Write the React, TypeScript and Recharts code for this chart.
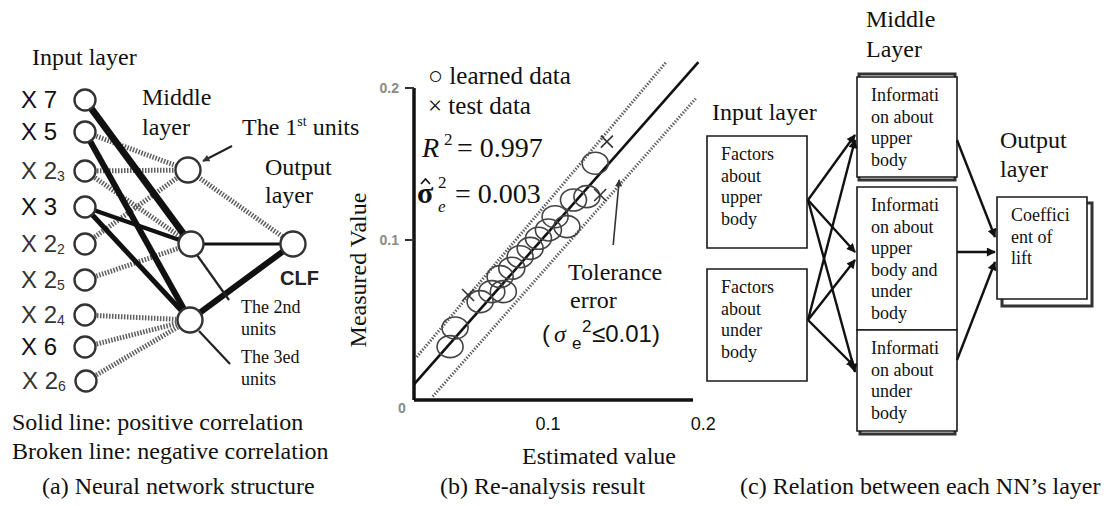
import React from 'react';
import { ScatterChart, Scatter, XAxis, YAxis, ReferenceLine, ReferenceArea } from 'recharts';

const W = 1119;
const H = 506;
const SERIF = '"Liberation Serif", "Times New Roman", Times, serif';
const SANS = '"Liberation Sans", Arial, Helvetica, sans-serif';

// ---------------- (a) Neural network structure (diagram units) ----------------
const inputUnits = [
  { id: 'X7', x: 85, y: 100, name: 'X 7', sub: '' },
  { id: 'X5', x: 85, y: 132, name: 'X 5', sub: '' },
  { id: 'X23', x: 85, y: 171, name: 'X 2', sub: '3' },
  { id: 'X3', x: 85, y: 207, name: 'X 3', sub: '' },
  { id: 'X22', x: 85, y: 244, name: 'X 2', sub: '2' },
  { id: 'X25', x: 85, y: 280, name: 'X 2', sub: '5' },
  { id: 'X24', x: 85, y: 315, name: 'X 2', sub: '4' },
  { id: 'X6', x: 85, y: 347, name: 'X 6', sub: '' },
  { id: 'X26', x: 86, y: 381, name: 'X 2', sub: '6' },
];
const middleUnits = [
  { id: 'M1', x: 188, y: 170 },
  { id: 'M2', x: 191, y: 244 },
  { id: 'M3', x: 190, y: 320 },
];
const outputUnits = [{ id: 'CLF', x: 293, y: 244 }];

const positiveLinks = [
  { from: 'X7', to: 'M2', weight: 7 },
  { from: 'X5', to: 'M3', weight: 6 },
  { from: 'X3', to: 'M2', weight: 4 },
  { from: 'X3', to: 'M3', weight: 5 },
  { from: 'M2', to: 'CLF', weight: 3 },
  { from: 'M3', to: 'CLF', weight: 6 },
];
const negativeLinks = [
  { from: 'X5', to: 'M1' },
  { from: 'X23', to: 'M1' },
  { from: 'X22', to: 'M1' },
  { from: 'X23', to: 'M2' },
  { from: 'X25', to: 'M2' },
  { from: 'X24', to: 'M3' },
  { from: 'X6', to: 'M3' },
  { from: 'X26', to: 'M3' },
  { from: 'M1', to: 'CLF' },
];
const unitPointers = [
  { points: [{ x: 232, y: 146 }, { x: 203, y: 161 }], head: true },
  { points: [{ x: 197, y: 255 }, { x: 229, y: 300 }], head: false },
  { points: [{ x: 199, y: 331 }, { x: 230, y: 364 }], head: false },
];

const labelsA = [
  { x: 32, y: 65, text: 'Input layer', kind: 'title' },
  { x: 142, y: 105, text: 'Middle', kind: 'title' },
  { x: 142, y: 135, text: 'layer', kind: 'title' },
  { x: 242, y: 135, text: 'The 1', sup: 'st', rest: ' units', kind: 'ordinal' },
  { x: 265, y: 175, text: 'Output', kind: 'title' },
  { x: 265, y: 203, text: 'layer', kind: 'title' },
  { x: 280, y: 285, text: 'CLF', kind: 'bold' },
  { x: 241, y: 313, text: 'The 2nd', kind: 'small' },
  { x: 241, y: 335, text: 'units', kind: 'small' },
  { x: 241, y: 363, text: 'The 3ed', kind: 'small' },
  { x: 241, y: 385, text: 'units', kind: 'small' },
  { x: 12, y: 430, text: 'Solid line: positive correlation', kind: 'title' },
  { x: 12, y: 459, text: 'Broken line: negative correlation', kind: 'title' },
  { x: 42, y: 494, text: '(a) Neural network structure', kind: 'title' },
];

// ---------------- (b) Re-analysis result (data units) ----------------
const learnedData = [
  { x: 0.0269, y: 0.0298 },
  { x: 0.0306, y: 0.0421 },
  { x: 0.0493, y: 0.0594 },
  { x: 0.058, y: 0.066 },
  { x: 0.0642, y: 0.0759 },
  { x: 0.0666, y: 0.066 },
  { x: 0.0729, y: 0.0814 },
  { x: 0.0791, y: 0.089 },
  { x: 0.0866, y: 0.0945 },
  { x: 0.0928, y: 0.1011 },
  { x: 0.1002, y: 0.1066 },
  { x: 0.1052, y: 0.1153 },
  { x: 0.114, y: 0.1088 },
  { x: 0.1189, y: 0.1263 },
  { x: 0.1289, y: 0.1285 },
  { x: 0.1351, y: 0.1505 },
];
const testData = [
  { x: 0.0403, y: 0.0638 },
  { x: 0.1388, y: 0.1296 },
  { x: 0.1438, y: 0.1647 },
];
const xTicks = [0.1, 0.2];
const yTicks = [0.1, 0.2];
const identityLine = [{ x: 0, y: 0.005 }, { x: 0.212, y: 0.217 }];
const upperTolerance = [{ x: 0.002, y: 0.023 }, { x: 0.188, y: 0.217 }];
const lowerTolerance = [{ x: 0.014, y: -0.003 }, { x: 0.21, y: 0.193 }];
const toleranceArrow = [{ x: 0.1485, y: 0.0967 }, { x: 0.153, y: 0.1395 }];

const labelsB = [
  { x: 428, y: 84, text: '○ learned data', kind: 'legend' },
  { x: 428, y: 114, text: '× test data', kind: 'legend' },
  { x: 422, y: 157, text: 'R', sup: '2', rest: '= 0.997', kind: 'r2' },
  { x: 417, y: 203, text: 'σ', sup: '2', sub: 'e', rest: '= 0.003', kind: 'sigma' },
  { x: 568, y: 280, text: 'Tolerance', kind: 'title' },
  { x: 570, y: 308, text: 'error', kind: 'title' },
  { x: 542, y: 342, text: '(σe2≤0.01)', kind: 'tolerance' },
  { x: 366, y: 270, text: 'Measured Value', kind: 'vertical' },
  { x: 398, y: 413, text: '0', kind: 'faint' },
  { x: 522, y: 464, text: 'Estimated value', kind: 'title' },
  { x: 440, y: 494, text: '(b) Re-analysis result', kind: 'title' },
];

// ---------------- (c) Relation between each NN's layer ----------------
const inputBoxes = [
  { x1: 707, x2: 807, y1: 136, y2: 248, lines: ['Factors', 'about', 'upper', 'body'] },
  { x1: 707, x2: 807, y1: 269, y2: 381, lines: ['Factors', 'about', 'under', 'body'] },
];
const middleBoxes = [
  { x1: 857, x2: 957, y1: 77, y2: 177, lines: ['Informati', 'on about', 'upper', 'body'] },
  { x1: 857, x2: 957, y1: 187, y2: 330, lines: ['Informati', 'on about', 'upper', 'body and', 'under', 'body'] },
  { x1: 857, x2: 957, y1: 330, y2: 431, lines: ['Informati', 'on about', 'under', 'body'] },
];
const outputBoxes = [
  { x1: 997, x2: 1087, y1: 197, y2: 299, lines: ['Coeffici', 'ent of', 'lift'] },
];
const boxShadows = [
  { x1: 859, x2: 955, y1: 74, y2: 180 },
  { x1: 860, x2: 955, y1: 333, y2: 434 },
  { x1: 1002, x2: 1092, y1: 203, y2: 306 },
];
const layerLinks = [
  [{ x: 808, y: 200 }, { x: 855, y: 135 }],
  [{ x: 808, y: 200 }, { x: 855, y: 252 }],
  [{ x: 808, y: 200 }, { x: 855, y: 372 }],
  [{ x: 808, y: 320 }, { x: 855, y: 140 }],
  [{ x: 808, y: 320 }, { x: 855, y: 260 }],
  [{ x: 808, y: 320 }, { x: 855, y: 367 }],
  [{ x: 957, y: 140 }, { x: 995, y: 237 }],
  [{ x: 957, y: 252 }, { x: 995, y: 252 }],
  [{ x: 957, y: 360 }, { x: 995, y: 262 }],
];
const labelsC = [
  { x: 866, y: 27, text: 'Middle', kind: 'title' },
  { x: 866, y: 57, text: 'Layer', kind: 'title' },
  { x: 712, y: 120, text: 'Input layer', kind: 'title' },
  { x: 1000, y: 148, text: 'Output', kind: 'title' },
  { x: 1000, y: 177, text: 'layer', kind: 'title' },
  { x: 740, y: 494, text: '(c) Relation between each NN’s layer', kind: 'title' },
];

// ---------------- helpers ----------------
const allUnits: Record<string, { x: number; y: number }> = {};
[...inputUnits, ...middleUnits, ...outputUnits].forEach((u) => {
  allUnits[u.id] = { x: u.x, y: u.y };
});

const TEXT: Record<string, any> = {
  title: { fontFamily: SERIF, fontSize: 24, fill: '#111' },
  small: { fontFamily: SERIF, fontSize: 18, fill: '#111' },
  box: { fontFamily: SERIF, fontSize: 18, fill: '#111' },
  legend: { fontFamily: SERIF, fontSize: 25, fill: '#111' },
  bold: { fontFamily: SANS, fontSize: 20, fontWeight: 700, fill: '#222' },
  faint: { fontFamily: SANS, fontSize: 14, fontWeight: 700, fill: '#8a8a8a' },
};

const noShape = () => <g />;

function LabelShape(props: any) {
  const { cx, cy, payload } = props;
  const k = payload.kind;
  if (k === 'ordinal') {
    return (
      <text x={cx} y={cy} {...TEXT.title}>
        {payload.text}
        <tspan dy={-9} fontSize={14}>{payload.sup}</tspan>
        <tspan dy={9}>{payload.rest}</tspan>
      </text>
    );
  }
  if (k === 'r2') {
    return (
      <g fontFamily={SERIF} fill="#111">
        <text x={cx} y={cy} fontSize={28} fontStyle="italic">{payload.text}</text>
        <text x={cx + 22} y={cy - 12} fontSize={17}>{payload.sup}</text>
        <text x={cx + 35} y={cy} fontSize={28}>{payload.rest}</text>
      </g>
    );
  }
  if (k === 'sigma') {
    return (
      <g fontFamily={SERIF} fill="#111">
        <text x={cx} y={cy} fontSize={30} fontWeight={700}>{payload.text}</text>
        <polyline
          points={`${cx + 4},${cy - 19} ${cx + 8.5},${cy - 24} ${cx + 13},${cy - 19}`}
          fill="none"
          stroke="#111"
          strokeWidth={1.6}
        />
        <text x={cx + 21} y={cy - 15} fontSize={17}>{payload.sup}</text>
        <text x={cx + 21} y={cy + 9} fontSize={17} fontStyle="italic">{payload.sub}</text>
        <text x={cx + 38} y={cy} fontSize={28}>{payload.rest}</text>
      </g>
    );
  }
  if (k === 'tolerance') {
    return (
      <g fill="#111">
        <text x={cx} y={cy} fontFamily={SANS} fontSize={24}>(</text>
        <text x={cx + 12} y={cy} fontFamily={SERIF} fontSize={24} fontStyle="italic">σ</text>
        <text x={cx + 30} y={cy + 7} fontFamily={SANS} fontSize={17}>e</text>
        <text x={cx + 40} y={cy - 10} fontFamily={SANS} fontSize={17}>2</text>
        <text x={cx + 50} y={cy} fontFamily={SANS} fontSize={24}>≤0.01)</text>
      </g>
    );
  }
  if (k === 'vertical') {
    return (
      <text x={cx} y={cy} textAnchor="middle" transform={`rotate(-90, ${cx}, ${cy})`} {...TEXT.title}>
        {payload.text}
      </text>
    );
  }
  return (
    <text x={cx} y={cy} {...(TEXT[k] || TEXT.title)}>
      {payload.text}
    </text>
  );
}

function BoxText(props: any) {
  const { cx, cy, payload } = props;
  return (
    <text {...TEXT.box}>
      {payload.lines.map((l: string, i: number) => (
        <tspan key={i} x={cx + 14} y={cy + 24 + i * 21.5}>{l}</tspan>
      ))}
    </text>
  );
}

function InputUnitShape(props: any) {
  const { cx, cy, payload } = props;
  return (
    <g>
      <circle cx={cx} cy={cy} r={10.5} fill="#fff" stroke="#333" strokeWidth={2.4} />
      <text x={cx - 64} y={cy + 8} fontFamily={SANS} fontSize={24} fill={payload.sub ? '#333' : '#111'}>
        {payload.name}
        {payload.sub ? <tspan dx={0} dy={2} fontSize={14}>{payload.sub}</tspan> : null}
      </text>
    </g>
  );
}

function UnitShape(props: any) {
  const { cx, cy } = props;
  return <circle cx={cx} cy={cy} r={12.5} fill="#fff" stroke="#333" strokeWidth={2.4} />;
}

function LearnedShape(props: any) {
  const { cx, cy } = props;
  return <ellipse cx={cx} cy={cy} rx={13} ry={11} fill="none" stroke="#444" strokeWidth={1.6} />;
}

function TestShape(props: any) {
  const { cx, cy } = props;
  return (
    <g stroke="#333" strokeWidth={1.6}>
      <line x1={cx - 6} y1={cy - 6} x2={cx + 6} y2={cy + 6} />
      <line x1={cx - 6} y1={cy + 6} x2={cx + 6} y2={cy - 6} />
    </g>
  );
}

function XTick(props: any) {
  const { x, y, payload, index } = props;
  const nudge = index === xTicks.length - 1 ? 21 : 0;
  return (
    <text x={x + nudge} y={y + 18} textAnchor="middle" fontFamily={SANS} fontSize={18} fill="#111">
      {payload.value}
    </text>
  );
}

function YTick(props: any) {
  const { x, y, payload } = props;
  return (
    <text x={x - 4} y={y + 5} textAnchor="end" fontFamily={SANS} fontSize={14} fontWeight={700} fill="#8a8a8a">
      {payload.value}
    </text>
  );
}

const dotted = { stroke: '#5e5e5e', strokeWidth: 5, strokeDasharray: '1.5 1.5' };

export default function App() {
  return (
    <div style={{ position: 'absolute', left: 0, top: 0, width: W, height: H, background: '#fff', overflow: 'hidden' }}>
      <svg width={0} height={0} style={{ position: 'absolute' }}>
        <defs>
          <marker id="arrowHead" viewBox="0 0 10 10" refX="9" refY="5" markerWidth="11" markerHeight="9" markerUnits="userSpaceOnUse" orient="auto">
            <path d="M0,0 L10,5 L0,10 z" fill="#111" />
          </marker>
          <marker id="arrowHeadSmall" viewBox="0 0 10 10" refX="9" refY="5" markerWidth="8" markerHeight="7" markerUnits="userSpaceOnUse" orient="auto">
            <path d="M0,0 L10,5 L0,10 z" fill="#333" />
          </marker>
        </defs>
      </svg>

      {/* (b) scatter plot */}
      <div style={{ position: 'absolute', left: 0, top: 0 }}>
        <ScatterChart width={W} height={H} margin={{ top: 88, right: W - 693, bottom: H - 400 - 30, left: 414 - 40 }}>
          <XAxis
            type="number"
            dataKey="x"
            domain={[0, 0.208]}
            ticks={xTicks}
            height={30}
            axisLine={{ stroke: '#111', strokeWidth: 3.5 }}
            tickLine={false}
            tickSize={12}
            tickMargin={0}
            tick={XTick}
          />
          <YAxis
            type="number"
            dataKey="y"
            domain={[-0.0053, 0.2]}
            ticks={yTicks}
            width={40}
            axisLine={{ stroke: '#111', strokeWidth: 3.5 }}
            tickLine={{ stroke: '#333', strokeWidth: 2 }}
            tickSize={9}
            tickMargin={2}
            tick={YTick}
          />
          <ReferenceLine segment={upperTolerance} ifOverflow="visible" stroke="#5a5a5a" strokeWidth={3} strokeDasharray="1.4 1.6" />
          <ReferenceLine segment={lowerTolerance} ifOverflow="visible" stroke="#5a5a5a" strokeWidth={3} strokeDasharray="1.4 1.6" />
          <ReferenceLine segment={identityLine} ifOverflow="visible" stroke="#111" strokeWidth={2.6} />
          <Scatter data={learnedData} shape={LearnedShape} isAnimationActive={false} />
          <Scatter data={testData} shape={TestShape} isAnimationActive={false} />
          <Scatter
            data={toleranceArrow}
            shape={noShape}
            line={{ stroke: '#333', strokeWidth: 1.6, markerEnd: 'url(#arrowHeadSmall)' }}
            isAnimationActive={false}
          />
        </ScatterChart>
      </div>

      {/* (a) and (c) diagrams + annotations */}
      <div style={{ position: 'absolute', left: 0, top: 0 }}>
        <ScatterChart width={W} height={H} margin={{ top: 0, right: 0, bottom: 0, left: 0 }}>
          <XAxis type="number" dataKey="x" domain={[0, W]} hide />
          <YAxis type="number" dataKey="y" domain={[0, H]} reversed hide />

          {boxShadows.map((b, i) => (
            <ReferenceArea key={`sh${i}`} x1={b.x1} x2={b.x2} y1={b.y1} y2={b.y2} fill="#fff" fillOpacity={1} stroke="#333" strokeWidth={3} />
          ))}
          {[...inputBoxes, ...middleBoxes, ...outputBoxes].map((b, i) => (
            <ReferenceArea key={`bx${i}`} x1={b.x1} x2={b.x2} y1={b.y1} y2={b.y2} fill="#fff" fillOpacity={1} stroke="#1a1a1a" strokeWidth={1.6} />
          ))}

          {negativeLinks.map((l, i) => (
            <Scatter key={`n${i}`} data={[allUnits[l.from], allUnits[l.to]]} shape={noShape} line={dotted} isAnimationActive={false} />
          ))}
          {positiveLinks.map((l, i) => (
            <Scatter
              key={`p${i}`}
              data={[allUnits[l.from], allUnits[l.to]]}
              shape={noShape}
              line={{ stroke: '#111', strokeWidth: l.weight }}
              isAnimationActive={false}
            />
          ))}
          {unitPointers.map((p, i) => (
            <Scatter
              key={`ptr${i}`}
              data={p.points}
              shape={noShape}
              line={p.head ? { stroke: '#222', strokeWidth: 2, markerEnd: 'url(#arrowHeadSmall)' } : { stroke: '#222', strokeWidth: 2.2 }}
              isAnimationActive={false}
            />
          ))}
          <Scatter data={inputUnits} shape={InputUnitShape} isAnimationActive={false} />
          <Scatter data={middleUnits} shape={UnitShape} isAnimationActive={false} />
          <Scatter data={outputUnits} shape={UnitShape} isAnimationActive={false} />

          {layerLinks.map((pts, i) => (
            <Scatter
              key={`ll${i}`}
              data={pts}
              shape={noShape}
              line={{ stroke: '#111', strokeWidth: 2.4, markerEnd: 'url(#arrowHead)' }}
              isAnimationActive={false}
            />
          ))}
          <Scatter data={[...inputBoxes, ...middleBoxes, ...outputBoxes].map((b) => ({ x: b.x1, y: b.y1, lines: b.lines }))} shape={BoxText} isAnimationActive={false} />
          <Scatter data={[...labelsA, ...labelsB, ...labelsC]} shape={LabelShape} isAnimationActive={false} />
        </ScatterChart>
      </div>
    </div>
  );
}
